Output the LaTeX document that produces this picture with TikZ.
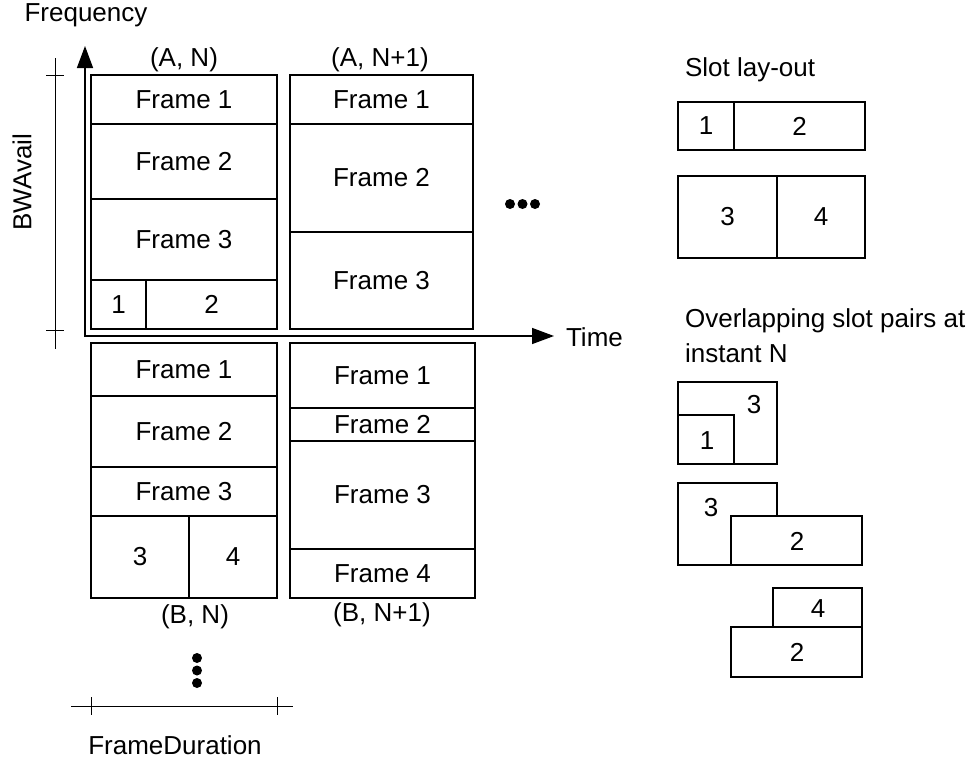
\documentclass[tikz,border=0pt]{standalone}
\usepackage{fontspec}
\setmainfont{Liberation Sans}
\usetikzlibrary{arrows.meta}

\begin{document}
\begin{tikzpicture}[x=0.5pt, y=-0.5pt,
	font=\fontsize{13}{15}\selectfont,
	cell/.style={line width=0.6pt},
	dim/.style={line width=0.5pt},
	tip/.style={line width=0.7pt, {Triangle[length=11pt,width=8pt]}-{Triangle[length=11pt,width=8pt]}}]
	\useasboundingbox (0,0) rectangle (974,760);
	% axes
	\coordinate (origin) at (85,336);
	\coordinate (ftip) at (85,46);
	\coordinate (ttip) at (554,336);
	\draw[tip] (ftip) -- (origin) -- (ttip);
	\node (freq) at (86,15) {Frequency};
	\node[anchor=west] (time) at (559,337) {Time};
	% BWAvail and FrameDuration
	\coordinate (bwtop) at (55,58);
	\coordinate (bwbot) at (55,349);
	\draw[dim] (bwtop) -- (bwbot);
	\foreach \y in {75, 330}
		\draw[dim] (46,\y) -- (64,\y);
	\node[rotate=90] (bw) at (22,182) {BWAvail};
	\coordinate (fdleft) at (71,706);
	\coordinate (fdright) at (293,706);
	\draw[dim] (fdleft) -- (fdright);
	\foreach \x in {91, 277}
		\draw[dim] (\x,697) -- (\x,715);
	\node (fd) at (175,745) {FrameDuration};
	% (A, N)
	\draw[cell] (91,75) rectangle (277,329);
	\draw[cell] (91,124) -- (277,124) (91,199) -- (277,199) (91,280) -- (277,280) (146,280) -- (146,329);
	\foreach \y/\f in {99.5/1, 161.5/2, 239.5/3}
		\node (an\f) at (184,\y) {Frame \f};
	\node (ans1) at (118.5,304.5) {1};
	\node (ans2) at (211.5,304.5) {2};
	\node (an) at (184,60) {(A, N)};
	% (A, N+1)
	\draw[cell] (290,75) rectangle (473,329);
	\draw[cell] (290,124) -- (473,124) (290,232) -- (473,232);
	\foreach \y/\f in {99.5/1, 178/2, 280.5/3}
		\node (am\f) at (381.5,\y) {Frame \f};
	\node (am) at (380,60) {(A, N+1)};
	% (B, N)
	\draw[cell] (91,343) rectangle (277,598);
	\draw[cell] (91,396) -- (277,396) (91,467) -- (277,467) (91,516) -- (277,516) (189,516) -- (189,598);
	\foreach \y/\f in {369.5/1, 431.5/2, 491.5/3}
		\node (bn\f) at (184,\y) {Frame \f};
	\node (bns3) at (140,557) {3};
	\node (bns4) at (233,557) {4};
	\node (bn) at (195,617) {(B, N)};
	% (B, N+1)
	\draw[cell] (290,343) rectangle (475,598);
	\draw[cell] (290,408) -- (475,408) (290,441) -- (475,441) (290,549) -- (475,549);
	\foreach \y/\f in {375.5/1, 424.5/2, 495/3, 573.5/4}
		\node (bm\f) at (382.5,\y) {Frame \f};
	\node (bm) at (382,615) {(B, N+1)};
	% continuation dots
	\foreach \x in {510, 522.5, 535}
		\fill (\x,204) circle [radius=5];
	\foreach \y in {658, 670.5, 683}
		\fill (197,\y) circle [radius=5];
	% slot lay-out
	\node[anchor=west] (layout) at (678,70) {Slot lay-out};
	\draw[cell] (678,102) rectangle (865,150) (734,102) -- (734,150);
	\node (ls1) at (706,126) {1};
	\node (ls2) at (799.5,126) {2};
	\draw[cell] (678,176) rectangle (865,258) (777,176) -- (777,258);
	\node (ls3) at (727.5,217) {3};
	\node (ls4) at (821,217) {4};
	% overlapping pairs
	\node[anchor=west, align=left, font=\fontsize{13}{17.5}\selectfont] (overlap) at (678,336) {Overlapping slot pairs at\\instant N};
	\draw[cell] (678,382) rectangle (777,464);
	\draw[cell] (678,415) rectangle (734,464);
	\node (o13) at (754,405) {3};
	\node (o11) at (707,441) {1};
	\draw[cell] (678,483) rectangle (777,565);
	\draw[cell, fill=white] (731,516) rectangle (862,565);
	\node (o23) at (711,508) {3};
	\node (o22) at (797,541) {2};
	\draw[cell] (773,588) rectangle (862,627);
	\draw[cell] (731,627) rectangle (862,677);
	\node (o34) at (818,609) {4};
	\node (o32) at (797,652) {2};
\end{tikzpicture}
\end{document}
